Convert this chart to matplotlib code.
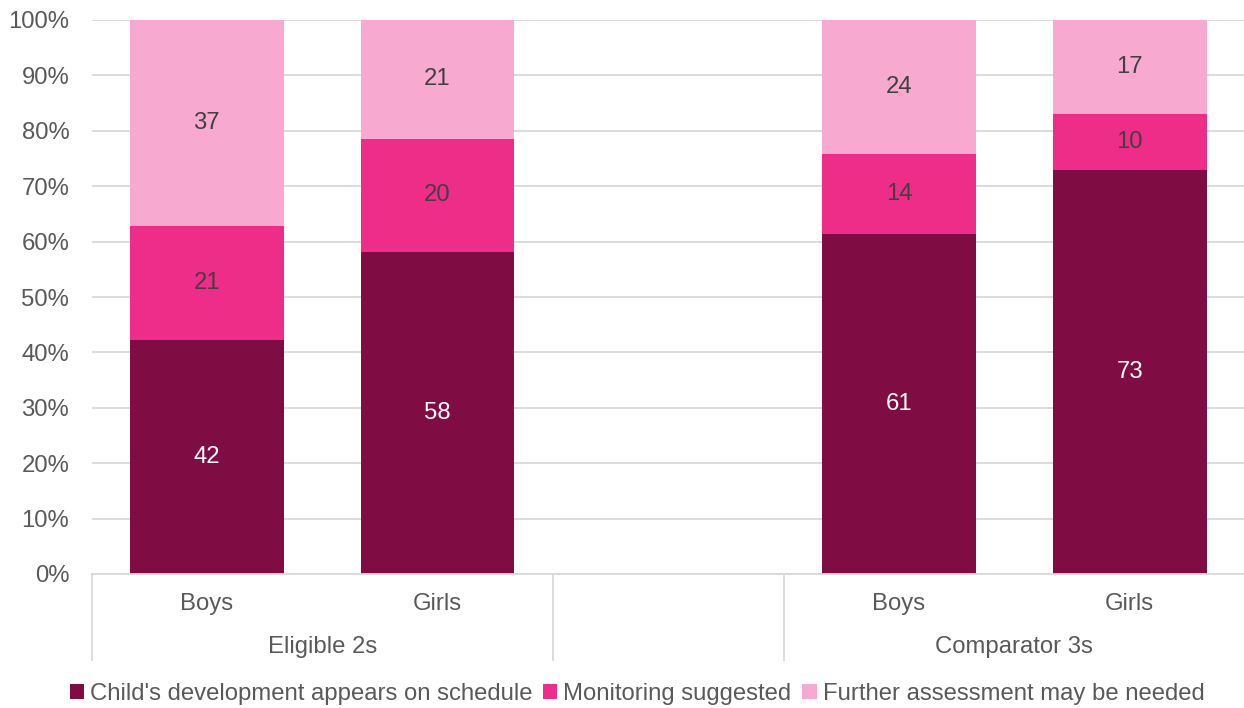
import matplotlib
matplotlib.use('Agg')
import matplotlib.pyplot as plt
from matplotlib.patches import Patch
import numpy as np

plt.rcParams['font.family'] = ['Liberation Sans', 'DejaVu Sans']

# data (percent of children)
bar_labels = ['Boys', 'Girls', 'Boys', 'Girls']
bar_slots = [0, 1, 3, 4]          # slot 2 is left empty
groups = ['Eligible 2s', 'Comparator 3s']
series = ["Child's development appears on schedule",
          'Monitoring suggested',
          'Further assessment may be needed']
on_schedule = [42.2, 58.2, 61.4, 72.9]
monitoring = [20.6, 20.4, 14.4, 10.1]
further = [37.2, 21.4, 24.2, 17.0]
shown_on_schedule = [42, 58, 61, 73]
shown_monitoring = [21, 20, 14, 10]
shown_further = [37, 21, 24, 17]

colors = ['#7F0C42', '#ED2D87', '#F7A9CF']
label_colors = ['white', '#404040', '#404040']
grey = '#595959'
fs = 17.2

fig = plt.figure(figsize=(12.44, 7.08), dpi=100)
ax = fig.add_axes([91.5 / 1244, 1 - 574 / 708, 1153.5 / 1244, 554 / 708])

x = np.array(bar_slots, dtype=float)
bottom = np.zeros(len(x))
for vals, shown, c, lc in zip([on_schedule, monitoring, further],
                              [shown_on_schedule, shown_monitoring, shown_further],
                              colors, label_colors):
    vals = np.array(vals)
    ax.bar(x, vals, bottom=bottom, width=0.667, color=c, zorder=2)
    for xi, b, v, s in zip(x, bottom, vals, shown):
        ax.text(xi, b + v / 2, str(s), ha='center', va='center',
                fontsize=fs, color=lc, zorder=3)
    bottom += vals

ax.set_xlim(-0.5, 4.5)
ax.set_ylim(0, 100)
ax.set_yticks(np.arange(0, 101, 10))
ax.set_yticklabels([f'{v}%' for v in range(0, 101, 10)])
ax.tick_params(axis='y', length=0, labelsize=fs, labelcolor=grey, pad=16)
ax.set_xticks([])
ax.grid(axis='y', color='#D9D9D9', linewidth=1.3, zorder=0)
for s in ['top', 'right', 'left']:
    ax.spines[s].set_visible(False)
ax.spines['bottom'].set_color('#D9D9D9')
ax.spines['bottom'].set_linewidth(1.3)

# multi-level category axis
tr = ax.get_xaxis_transform()
for xi, lab in zip(x, bar_labels):
    ax.text(xi, -30 / 554, lab, transform=tr, ha='center', va='center',
            fontsize=fs, color=grey)
ax.text(0.5, -73 / 554, groups[0], transform=tr, ha='center', va='center',
        fontsize=fs, color=grey)
ax.text(3.5, -73 / 554, groups[1], transform=tr, ha='center', va='center',
        fontsize=fs, color=grey)
for xs in [-0.5, 1.5, 2.5, 4.5]:
    ax.plot([xs, xs], [0, -86 / 554], transform=tr, color='#D9D9D9',
            linewidth=1.3, clip_on=False)

handles = [Patch(facecolor=c, edgecolor='none') for c in colors]
leg = fig.legend(handles, series, loc='center', bbox_to_anchor=(637 / 1244, 1 - 694 / 708),
                 ncol=3, frameon=False, fontsize=fs, handlelength=0.6,
                 handleheight=0.6, handletextpad=0.25, columnspacing=0.45)
for t in leg.get_texts():
    t.set_color(grey)

fig.savefig('out.png', dpi=100)
